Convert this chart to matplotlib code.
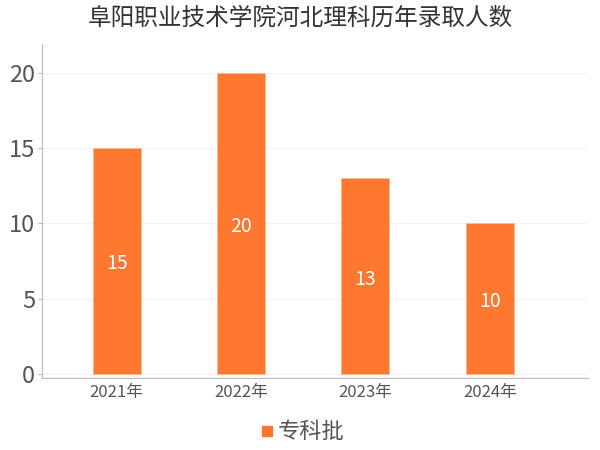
import matplotlib
matplotlib.use("Agg")
import matplotlib.pyplot as plt
from matplotlib.lines import Line2D

plt.rcParams['font.family'] = ['Noto Sans CJK SC', 'DejaVu Sans']

# data
years = ["2021年", "2022年", "2023年", "2024年"]
counts = [15, 20, 13, 10]
series_name = "专科批"
bar_color = "#ff7830"

fig = plt.figure(figsize=(6, 4.5), dpi=100)
ax = fig.add_axes([42 / 600, (450 - 378) / 450, 546 / 600, (378 - 44) / 450])

x = list(range(len(years)))
bars = ax.bar(x, counts, width=0.386, color=bar_color, edgecolor="#ffb894", linewidth=0.6, zorder=3)

# value labels in the middle of each bar
for xi, v in zip(x, counts):
    ax.annotate(str(v), (xi, v / 2), xytext=(0, -3), textcoords="offset pixels",
                ha="center", va="center", color="white", fontsize=14, zorder=4)

ax.set_xlim(-0.60, 3.79)
ax.set_ylim(-0.27, 21.9)
ax.set_yticks([0, 5, 10, 15, 20])
ax.set_xticks(x)
ax.set_xticklabels(years)
ax.tick_params(axis="y", labelsize=17, colors="#555555", length=3, color="#bbbbbb", pad=2)
ax.tick_params(axis="x", labelsize=12, colors="#555555", length=0, pad=4)
ax.grid(axis="y", color="#f2f2f2", linewidth=0.8, zorder=0)

for s in ["top", "right"]:
    ax.spines[s].set_visible(False)
ax.spines["left"].set_color("#bbbbbb")
ax.spines["bottom"].set_color("#bbbbbb")

fig.text(0.5, 1 - 18 / 450, "阜阳职业技术学院河北理科历年录取人数", ha="center", va="center",
         fontsize=17, color="#333333")

handle = Line2D([], [], marker="s", linestyle="none", color=bar_color, markersize=7)
fig.legend([handle], [series_name], loc="center", bbox_to_anchor=(0.5, 1 - 432 / 450),
           frameon=False, fontsize=16, labelcolor="#555555", handletextpad=0.0,
           handlelength=1.0)

fig.savefig("out.png", dpi=100)
